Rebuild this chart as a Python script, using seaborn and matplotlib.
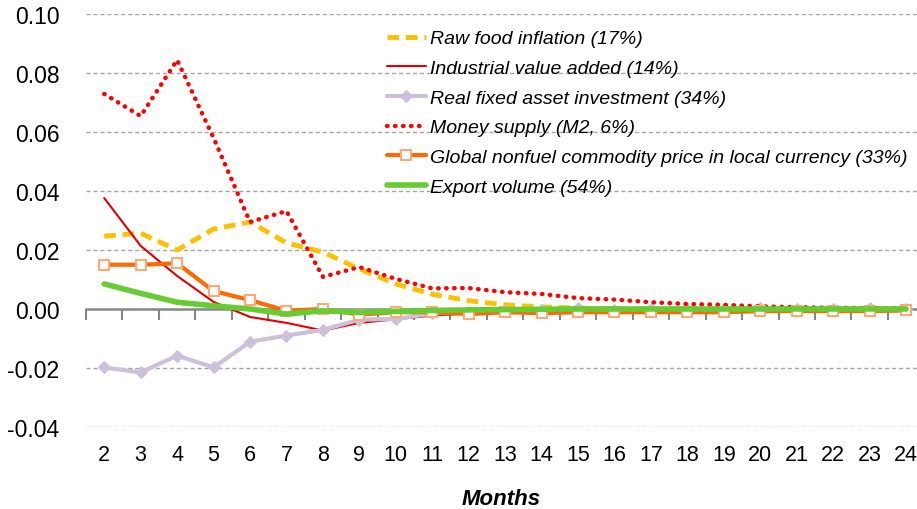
import numpy as np
import pandas as pd
import matplotlib
matplotlib.use("Agg")
import matplotlib.pyplot as plt
from matplotlib.ticker import MultipleLocator, FixedLocator
import seaborn as sns

sns.set_style("white")
plt.rcParams['font.family'] = ['Liberation Sans', 'DejaVu Sans']
plt.rcParams['text.color'] = 'black'
plt.rcParams['axes.labelcolor'] = 'black'
plt.rcParams['xtick.color'] = 'black'
plt.rcParams['ytick.color'] = 'black'

# data
months = list(range(2, 25))
raw_food = [0.0247, 0.0257, 0.0200, 0.0271, 0.0295, 0.0224, 0.0193, 0.0136, 0.0085, 0.0050,
            0.0028, 0.0014, 0.0007, 0.0003, 0.0001, 0.0, 0.0, 0.0, 0.0, 0.0, 0.0, 0.0, 0.0]
industrial = [0.0376, 0.0214, 0.0112, 0.0024, -0.0027, -0.0047, -0.0073, -0.0047, -0.0035, -0.0022,
              -0.0015, -0.0010, -0.0006, -0.0004, -0.0002, -0.0001, 0.0, 0.0, 0.0, 0.0, 0.0, 0.0, 0.0]
fixed_inv = [-0.0198, -0.0215, -0.0158, -0.0198, -0.0111, -0.0090, -0.0071, -0.0036, -0.0034, -0.0015,
             -0.0010, -0.0006, -0.0004, 0.0002, -0.0002, 0.0001, -0.0001, 0.0001, 0.0002, 0.0001,
             0.0001, 0.0002, 0.0001]
money = [0.0729, 0.0654, 0.0844, 0.0580, 0.0295, 0.0332, 0.0109, 0.0142, 0.0102, 0.0070,
         0.0071, 0.0057, 0.0051, 0.0037, 0.0032, 0.0023, 0.0017, 0.0014, 0.0009, 0.0006,
         0.0004, 0.0003, 0.0002]
commodity = [0.0150, 0.0150, 0.0155, 0.0061, 0.0030, -0.0006, 0.0000, -0.0019, -0.0011, -0.0011,
             -0.0017, -0.0011, -0.0014, -0.0011, -0.0011, -0.0011, -0.0011, -0.0011, -0.0007, -0.0007,
             -0.0007, -0.0007, -0.0005]
export = [0.0085, 0.0053, 0.0023, 0.0011, 0.0000, -0.0017, -0.0006, -0.0011, -0.0008, -0.0005,
          -0.0003, -0.0002, -0.0001, 0.0, 0.0, 0.0, 0.0, 0.0, 0.0, 0.0, 0.0, 0.0, 0.0]

labels = ["Raw food inflation (17%)",
          "Industrial value added (14%)",
          "Real fixed asset investment (34%)",
          "Money supply (M2, 6%)",
          "Global nonfuel commodity price in local currency (33%)",
          "Export volume (54%)"]

fig = plt.figure(figsize=(9.17, 5.10), dpi=100)
ax = fig.add_axes([86/917, 1-428/510, 1-86/917, (428-15)/510])

# gridlines (dashed), zero line handled separately
for v in [-0.04, -0.02, 0.02, 0.04, 0.06, 0.08, 0.10]:
    ax.axhline(v, color='#a6a6a6', lw=1, ls=(0, (3, 2)), zorder=0)

sns.lineplot(x=months, y=raw_food, ax=ax, color='#FFC000', lw=3.5, label=labels[0])
ax.lines[-1].set_dashes([2.4, 1.4])
sns.lineplot(x=months, y=industrial, ax=ax, color='#E00000', lw=1.5, label=labels[1])
sns.lineplot(x=months, y=fixed_inv, ax=ax, color='#CCC0DA', lw=3, marker='D',
             markersize=6, markeredgecolor='#CCC0DA', label=labels[2])
sns.lineplot(x=months, y=money, ax=ax, color='#FF0000', lw=3.2, label=labels[3])
ax.lines[-1].set_linestyle((0, (0.1, 1.7)))
ax.lines[-1].set_dash_capstyle('round')
sns.lineplot(x=months, y=commodity, ax=ax, color='#FF6A00', lw=3, marker='s',
             markersize=7, markerfacecolor='white', markeredgecolor='#FFA97A',
             markeredgewidth=1.5, label=labels[4])
sns.lineplot(x=months, y=export, ax=ax, color='#66CC33', lw=4, label=labels[5])

ax.set_xlim(1.5, 24.3)
ax.set_ylim(-0.04, 0.10)
for s in ax.spines.values():
    s.set_visible(False)

ax.yaxis.set_major_locator(MultipleLocator(0.02))
ax.yaxis.set_major_formatter(matplotlib.ticker.FuncFormatter(lambda v, p: f"{v:.2f}"))
ax.xaxis.set_major_locator(FixedLocator(months))
ax.tick_params(axis='x', length=0, labelsize=15.5, pad=12)
ax.tick_params(axis='y', length=0, labelsize=16.5, pad=19)

# zero axis with category boundary ticks
zero = ax.secondary_xaxis(0.04/0.14)
zero.spines['bottom'].set_color('#868686')
zero.spines['bottom'].set_linewidth(1.8)
zero.xaxis.set_major_locator(MultipleLocator(1, offset=0.5))
zero.tick_params(axis='x', length=8, width=1.5, color='#868686', labelbottom=False)

ax.set_xlabel("Months", fontsize=16, fontweight='bold', fontstyle='italic', labelpad=17)

leg = ax.legend(loc='upper left', bbox_to_anchor=(377/917, 1-21/510),
                bbox_transform=fig.transFigure, frameon=False,
                prop={'style': 'italic', 'size': 14}, handlelength=2.0,
                handletextpad=0.2, labelspacing=0.62, borderpad=0)

fig.savefig("out.png", dpi=100)
